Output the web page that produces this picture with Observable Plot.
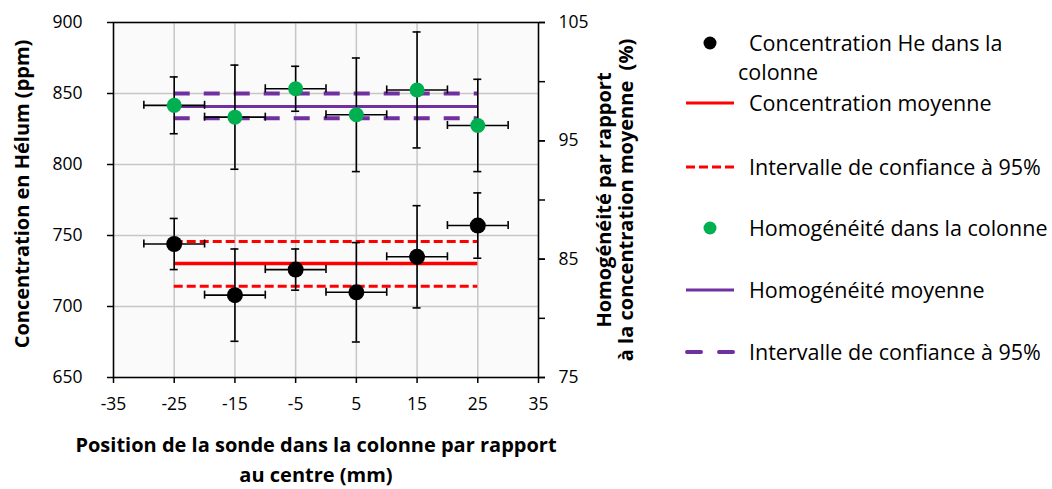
<!DOCTYPE html>
<html><head><meta charset="utf-8">
<script src="https://cdn.jsdelivr.net/npm/d3@7"></script>
<script src="https://cdn.jsdelivr.net/npm/@observablehq/plot@0.6"></script>
<style>
body{margin:0;background:#fff;font-family:"Open Sans", sans-serif;}
#wrap{display:flex;width:1052px;height:489px;}
#chart{width:670px;height:489px;}
#legend{position:relative;width:382px;height:489px;}
.sym{position:absolute;}
.lab{position:absolute;font-size:21.5px;color:#000;white-space:nowrap;line-height:1;transform:translateY(-50%);}
</style></head><body>
<div id="wrap"><div id="chart"></div><div id="legend"></div></div>
<script>
// ---- data ----
const xPositions = [-25, -15, -5, 5, 15, 25];
const xUncertainty = [5, 5, 5, 5, 5, 5];
const heConcentration = [744, 708, 726, 710, 735, 757];
const heUncertainty = [18, 32.5, 14.5, 35, 36, 23];
const concMean = 730.2, concLow = 714.2, concHigh = 745.8;
const homogeneity = [98.0, 97.0, 99.4, 97.2, 99.3, 96.3];
const homogUncertainty = [2.4, 4.4, 1.9, 4.8, 4.9, 3.9];
const homogMean = 97.9, homogLow = 96.9, homogHigh = 99.0;
const xTicks = [-35, -25, -15, -5, 5, 15, 25, 35];
const yTicks = [650, 700, 750, 800, 850, 900];
const pctTickLabels = [75, 85, 95, 105];
const pctTickMarks = [75, 80, 85, 90, 95, 100, 105];
const legendLabels = ["Concentration He dans la", "colonne", "Concentration moyenne", "Intervalle de confiance à 95%", "Homogénéité dans la colonne", "Homogénéité moyenne", "Intervalle de confiance à 95%"];
const xTitle = "Position de la sonde dans la colonne par rapport\nau centre (mm)";
const yTitle = "Concentration en Hélum (ppm)";
const y2Title = "Homogénéité par rapport\nà la concentration moyenne  (%)";

// ---- secondary axis mapping ----
const leftDomain = [650, 900], rightDomain = [75, 105];
const toLeft = p => leftDomain[0] + (p - rightDomain[0]) * (leftDomain[1] - leftDomain[0]) / (rightDomain[1] - rightDomain[0]);
const fromLeft = v => rightDomain[0] + (v - leftDomain[0]) * (rightDomain[1] - rightDomain[0]) / (leftDomain[1] - leftDomain[0]);

const he = xPositions.map((x, i) => ({x, xe: xUncertainty[i], y: heConcentration[i], lo: heConcentration[i] - heUncertainty[i], hi: heConcentration[i] + heUncertainty[i]}));
const hom = xPositions.map((x, i) => ({x, xe: xUncertainty[i], y: toLeft(homogeneity[i]), lo: toLeft(homogeneity[i] - homogUncertainty[i]), hi: toLeft(homogeneity[i] + homogUncertainty[i])}));
const xMin = d3.min(xPositions), xMax = d3.max(xPositions);
const concLines = [{x1: xMin, x2: xMax, y: concMean}];
const concCI = [{x1: xMin, x2: xMax, y: concLow}, {x1: xMin, x2: xMax, y: concHigh}];
const homLines = [{x1: xMin, x2: xMax, y: toLeft(homogMean)}];
const homCI = [{x1: xMin, x2: xMax, y: toLeft(homogLow)}, {x1: xMin, x2: xMax, y: toLeft(homogHigh)}];

function errorBars(data) {
  const s = {stroke: "#000", strokeWidth: 1.6};
  return [
    Plot.ruleX(data, {x: "x", y1: "lo", y2: "hi", ...s}),
    Plot.ruleY(data, {y: "lo", x1: "x", x2: "x", insetLeft: -4, insetRight: -4, ...s}),
    Plot.ruleY(data, {y: "hi", x1: "x", x2: "x", insetLeft: -4, insetRight: -4, ...s}),
    Plot.ruleY(data, {y: "y", x1: d => d.x - d.xe, x2: d => d.x + d.xe, ...s}),
    Plot.ruleX(data, {x: d => d.x - d.xe, y1: "y", y2: "y", insetTop: -4, insetBottom: -4, ...s}),
    Plot.ruleX(data, {x: d => d.x + d.xe, y1: "y", y2: "y", insetTop: -4, insetBottom: -4, ...s})
  ];
}

const chart = Plot.plot({
  width: 670, height: 489,
  marginLeft: 113, marginRight: 132, marginTop: 22, marginBottom: 112,
  style: {fontFamily: "'Open Sans', sans-serif", fontSize: "17.5px", color: "#000", background: "#fff"},
  x: {domain: [-35, 35]},
  y: {domain: leftDomain},
  marks: [
    Plot.frame({fill: "#fafafa", stroke: "none"}),
    Plot.gridX(xTicks, {stroke: "#c6c6c6", strokeOpacity: 1, strokeWidth: 1.5}),
    Plot.gridY(yTicks, {stroke: "#c6c6c6", strokeOpacity: 1, strokeWidth: 1.5}),
    Plot.frame({stroke: "#000", strokeWidth: 1.5}),
    Plot.axisX(xTicks, {tickSize: 6, tickPadding: 14, fontSize: 17.5, strokeWidth: 1.5, tickFormat: d => String(d), label: null}),
    Plot.axisY(yTicks, {tickSize: 6, tickPadding: 25, fontSize: 17.5, strokeWidth: 1.5, tickFormat: d => String(d), label: null}),
    Plot.axisY(pctTickMarks.map(toLeft), {anchor: "right", tickSize: 6, strokeWidth: 1.5, tickFormat: () => "", label: null}),
    Plot.axisY(pctTickLabels.map(toLeft), {anchor: "right", tickSize: 6, tickPadding: 14, strokeWidth: 1.5, fontSize: 17.5, textAnchor: "start", tickFormat: d => String(Math.round(fromLeft(d))), label: null}),
    // mean lines and confidence intervals
    Plot.ruleY(concCI, {y: "y", x1: "x1", x2: "x2", stroke: "#ff0000", strokeWidth: 3, strokeDasharray: "9,4"}),
    Plot.ruleY(concLines, {y: "y", x1: "x1", x2: "x2", stroke: "#ff0000", strokeWidth: 3.5}),
    Plot.ruleY(homCI, {y: "y", x1: "x1", x2: "x2", stroke: "#7030a0", strokeWidth: 4, strokeDasharray: "16,14"}),
    Plot.ruleY(homLines, {y: "y", x1: "x1", x2: "x2", stroke: "#7030a0", strokeWidth: 3}),
    ...errorBars(he),
    ...errorBars(hom),
    Plot.dot(he, {x: "x", y: "y", r: 8, fill: "#000", stroke: "none"}),
    Plot.dot(hom, {x: "x", y: "y", r: 7.5, fill: "#00b050", stroke: "none"}),
    // axis titles
    Plot.text([xTitle], {frameAnchor: "bottom", textAnchor: "middle", lineAnchor: "middle", dx: -10, dy: 80, fontSize: 20, fontWeight: "bold", lineHeight: 1.5}),
    Plot.text([yTitle], {frameAnchor: "left", textAnchor: "middle", lineAnchor: "middle", dx: -91, dy: -6, rotate: -90, fontSize: 20, fontWeight: "bold"}),
    Plot.text([y2Title], {frameAnchor: "right", textAnchor: "middle", lineAnchor: "middle", dx: 76, dy: 0, rotate: -90, fontSize: 20, fontWeight: "bold", lineHeight: 1.1})
  ]
});
document.getElementById("chart").append(chart);

// ---- legend ----
const L = document.getElementById("legend");
const ox = 670;
function sym(svg, cx, cy) {
  const d = document.createElement("div");
  d.className = "sym";
  d.style.left = (cx - ox - 25) + "px"; d.style.top = (cy - 10) + "px";
  d.innerHTML = `<svg width="50" height="20">${svg}</svg>`;
  L.append(d);
}
function lab(text, x, y) {
  const d = document.createElement("div");
  d.className = "lab"; d.textContent = text;
  d.style.left = (x - ox) + "px"; d.style.top = y + "px";
  L.append(d);
}
const rows = [43, 103, 167, 228, 290, 352];
sym(`<circle cx="25" cy="10" r="6.5" fill="#000"/>`, 710, rows[0]);
sym(`<line x1="1" x2="49" y1="10" y2="10" stroke="#ff0000" stroke-width="3"/>`, 710, rows[1]);
sym(`<line x1="1" x2="49" y1="10" y2="10" stroke="#ff0000" stroke-width="3" stroke-dasharray="9,4"/>`, 710, rows[2]);
sym(`<circle cx="25" cy="10" r="6.5" fill="#00b050"/>`, 710, rows[3]);
sym(`<line x1="1" x2="49" y1="10" y2="10" stroke="#7030a0" stroke-width="3"/>`, 710, rows[4]);
sym(`<line x1="2" x2="48" y1="10" y2="10" stroke="#7030a0" stroke-width="4" stroke-dasharray="14,18" stroke-linecap="round"/>`, 710, rows[5]);
lab(legendLabels[0], 749, rows[0]);
lab(legendLabels[1], 738, 72);
lab(legendLabels[2], 749, rows[1]);
lab(legendLabels[3], 749, rows[2]);
lab(legendLabels[4], 749, rows[3]);
lab(legendLabels[5], 749, rows[4]);
lab(legendLabels[6], 749, rows[5]);
</script>
</body></html>
